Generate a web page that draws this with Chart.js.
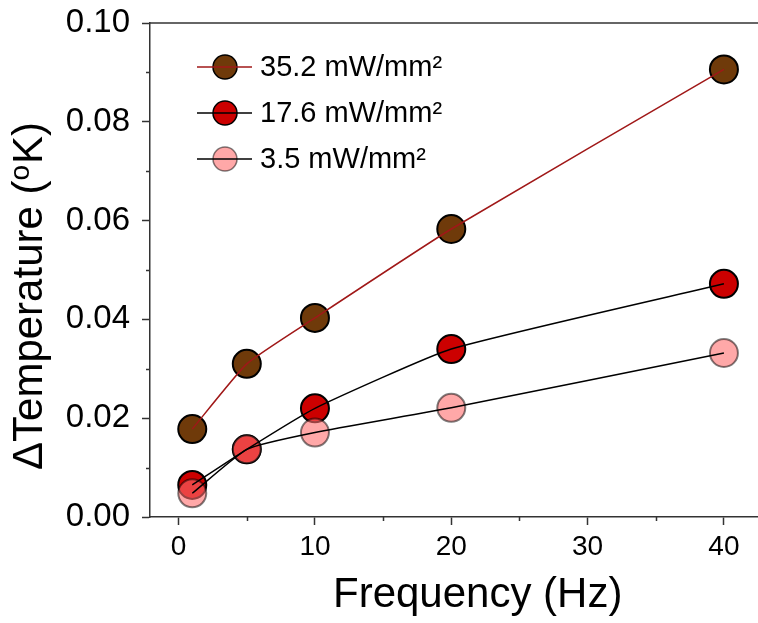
<!DOCTYPE html>
<html>
<head>
<meta charset="utf-8">
<script src="https://cdn.jsdelivr.net/npm/chart.js"></script>
<style>
  html, body { margin: 0; padding: 0; background: #fff; }
</style>
</head>
<body>
<canvas id="tempChart" width="758" height="623"></canvas>
<script>
// frequency (Hz) and temperature rise (K) for each power density
const freq = [1, 5, 10, 20, 40];
const dT352 = [0.0178, 0.0310, 0.0403, 0.0583, 0.0906];
const dT176 = [0.0065, 0.0137, 0.0220, 0.0340, 0.0472];
const dT35 = [0.0048, 0.0137, 0.0171, 0.0221, 0.0332];
const seriesLabels = ['35.2 mW/mm\u00B2', '17.6 mW/mm\u00B2', '3.5 mW/mm\u00B2'];

const xTicks = [0, 10, 20, 30, 40];
const xMinor = [5, 15, 25, 35];
const yTicks = [0, 0.02, 0.04, 0.06, 0.08, 0.10];
const yMinor = [0.01, 0.03, 0.05, 0.07, 0.09];

const FONT = "'Liberation Sans', Arial, sans-serif";
const AXIS = '#333';

const styles = [
  { fill: '#6f3a0a', edge: '#000', line: '#a01818' },
  { fill: '#cc0000', edge: '#000', line: '#000' },
  { fill: 'rgba(255,110,110,0.6)', edge: 'rgba(0,0,0,0.5)', line: '#000' }
];
const series = [dT352, dT176, dT35];

const pts = arr => freq.map((f, i) => ({ x: f, y: arr[i] }));

const datasets = [];
// lines go on top of every marker
series.forEach((arr, i) => {
  datasets.push({
    label: seriesLabels[i] + ' line',
    data: pts(arr),
    borderColor: styles[i].line,
    borderWidth: 1.5,
    tension: 0.15,
    pointRadius: 0,
    order: 3 - i
  });
});
series.forEach((arr, i) => {
  datasets.push({
    label: seriesLabels[i],
    data: pts(arr),
    showLine: false,
    pointRadius: 14,
    pointBorderWidth: 2,
    pointBackgroundColor: styles[i].fill,
    pointBorderColor: styles[i].edge,
    order: 6 - i
  });
});

const extras = {
  id: 'extras',
  afterDraw(chart) {
    const ctx = chart.ctx;
    const area = chart.chartArea;
    const xs = chart.scales.x, ys = chart.scales.y;
    ctx.save();
    ctx.strokeStyle = AXIS;
    ctx.lineWidth = 1.5;

    // top frame
    ctx.beginPath();
    ctx.moveTo(area.left, area.top);
    ctx.lineTo(area.right, area.top);
    ctx.stroke();

    // minor ticks
    ctx.beginPath();
    xMinor.forEach(v => {
      const px = Math.round(xs.getPixelForValue(v)) + 0.5;
      ctx.moveTo(px, area.bottom);
      ctx.lineTo(px, area.bottom + 4);
    });
    yMinor.forEach(v => {
      const py = Math.round(ys.getPixelForValue(v)) + 0.5;
      ctx.moveTo(area.left, py);
      ctx.lineTo(area.left - 4, py);
    });
    ctx.stroke();

    // axis titles
    ctx.fillStyle = '#000';
    ctx.font = '42px ' + FONT;
    ctx.textBaseline = 'alphabetic';
    ctx.textAlign = 'left';
    ctx.fillText('Frequency (Hz)', 333, 607);

    ctx.save();
    ctx.translate(42, 470);
    ctx.rotate(-Math.PI / 2);
    let tx = 0;
    const head = '\u0394Temperature (';
    ctx.fillText(head, tx, 0);
    tx += ctx.measureText(head).width;
    ctx.font = '28px ' + FONT;
    ctx.fillText('o', tx, -13);
    tx += ctx.measureText('o').width + 1;
    ctx.font = '42px ' + FONT;
    ctx.fillText('K)', tx, 0);
    ctx.restore();

    // legend
    const rows = [67, 113, 159];
    ctx.font = '29px ' + FONT;
    ctx.textBaseline = 'middle';
    rows.forEach((y, i) => {
      ctx.beginPath();
      ctx.arc(225, y, 12, 0, Math.PI * 2);
      ctx.fillStyle = styles[i].fill;
      ctx.fill();
      ctx.lineWidth = 1.5;
      ctx.strokeStyle = styles[i].edge;
      ctx.stroke();
      ctx.strokeStyle = styles[i].line;
      ctx.beginPath();
      ctx.moveTo(197, y);
      ctx.lineTo(252, y);
      ctx.stroke();
      ctx.fillStyle = '#000';
      ctx.fillText(seriesLabels[i], 260, y + 1);
    });
    ctx.restore();
  }
};

new Chart(document.getElementById('tempChart').getContext('2d'), {
  type: 'line',
  data: { datasets },
  options: {
    responsive: false,
    animation: false,
    events: [],
    // big markers would otherwise reserve room on every side; the plot runs to the right edge
    layout: { autoPadding: false, padding: { top: 23, right: 0, bottom: 0, left: 0 } },
    plugins: { legend: { display: false }, tooltip: { enabled: false } },
    scales: {
      x: {
        type: 'linear',
        min: -2.1,
        max: 42.5,
        afterBuildTicks: s => { s.ticks = xTicks.map(v => ({ value: v })); },
        afterFit: s => { s.height = 106; s.paddingLeft = 0; s.paddingRight = 0; },
        grid: { drawOnChartArea: false, tickLength: 8, tickColor: AXIS, tickWidth: 1.5 },
        border: { color: AXIS, width: 1.5 },
        ticks: { color: '#000', font: { family: FONT, size: 28 }, padding: 5, maxRotation: 0 }
      },
      y: {
        min: 0,
        max: 0.10,
        afterBuildTicks: s => { s.ticks = yTicks.map(v => ({ value: v })); },
        afterFit: s => { s.width = 150; s.paddingTop = 0; s.paddingBottom = 0; },
        grid: { drawOnChartArea: false, tickLength: 8, tickColor: AXIS, tickWidth: 1.5 },
        border: { color: AXIS, width: 1.5 },
        ticks: {
          color: '#000',
          font: { family: FONT, size: 33 },
          padding: 12,
          callback: v => v.toFixed(2)
        }
      }
    }
  },
  plugins: [extras]
});
</script>
</body>
</html>
